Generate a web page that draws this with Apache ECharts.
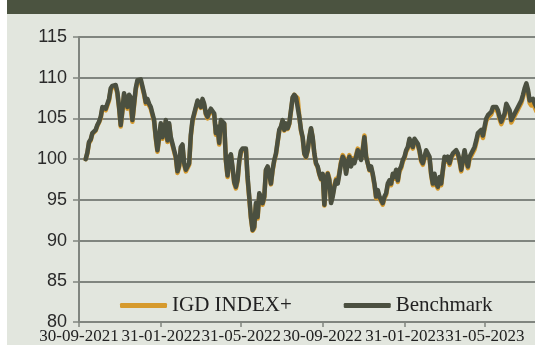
<!DOCTYPE html>
<html>
<head>
<meta charset="utf-8">
<script src="https://cdn.jsdelivr.net/npm/echarts@6/dist/echarts.min.js"></script>
<style>
html,body{margin:0;padding:0;background:#ffffff;}
#c{width:535px;height:345px;}
</style>
</head>
<body>
<div id="c"></div>
<script>
// ---- data ----
const seriesNames = ['IGD INDEX+', 'Benchmark'];
const startDate = '10-10-2021';    // first observation
const stepDays = 2.5;              // spacing between observations
const tickDates = ['30-09-2021', '31-01-2022', '31-05-2022', '30-09-2022', '31-01-2023', '31-05-2023'];
const axisStart = '30-09-2021';
const axisEnd = '14-08-2023';
const yTicks = [80, 85, 90, 95, 100, 105, 110, 115];

const benchmark = [
100.0,100.8,102.1,102.4,103.2,103.4,103.6,104.2,104.6,105.2,
106.4,106.6,106.2,106.4,107.4,108.7,109.0,109.1,109.1,108.2,
106.4,104.2,106.0,108.1,107.9,106.4,107.9,107.6,104.8,106.8,
108.7,109.7,109.8,109.8,109.7,108.1,107.0,107.4,106.8,106.4,
105.6,104.8,102.7,101.1,100.9,104.4,102.7,103.2,104.8,102.3,
104.4,102.7,101.9,101.1,100.3,98.5,99.2,101.5,101.8,99.5,
98.7,98.7,99.5,103.0,104.8,105.6,106.4,107.2,107.4,106.4,
107.4,106.8,105.6,105.2,105.8,106.2,106.4,105.6,103.2,104.0,
102.0,104.8,104.6,104.4,99.9,98.0,100.2,100.6,99.0,97.2,
96.6,97.5,99.8,101.0,101.3,101.5,101.3,97.8,95.4,92.9,
91.3,91.7,94.6,
92.9,95.8,95.4,94.6,95.4,98.7,99.1,98.2,97.0,98.7,
99.9,100.7,100.7,103.6,104.0,104.8,103.6,104.4,103.8,104.4,
106.0,107.6,107.9,107.6,107.4,105.2,103.6,102.7,100.7,100.3,
101.1,102.7,103.8,102.7,100.7,99.5,99.1,98.2,97.6,98.2,
94.4,97.4,98.2,97.4,94.6,95.4,96.6,97.4,97.0,98.2,
99.5,100.3,99.9,98.2,99.5,100.3,99.1,99.9,99.5,100.3,
101.1,100.7,99.9,101.1,102.7,100.3,99.5,98.7,99.1,98.2,
97.0,95.4,96.2,95.4,95.0,94.6,95.4,95.8,97.0,97.4,
97.0,98.2,97.8,98.7,97.4,98.7,99.1,99.9,100.3,101.1,
101.5,102.5,101.9,101.5,102.5,102.7,101.9,101.1,99.9,99.5,
100.3,101.1,101.3,100.3,98.2,97.0,98.2,
97.0,96.6,97.8,97.0,98.7,100.3,99.9,100.3,99.5,100.3,
100.7,100.9,101.1,100.7,99.9,98.7,99.9,101.1,99.9,99.1,
100.3,100.7,101.1,101.5,102.3,103.2,103.4,103.6,102.9,104.0,
105.0,105.4,105.6,105.8,106.4,106.6,106.4,106.0,105.2,104.6,
104.4,105.6,106.8,106.8,106.0,104.8,105.0,105.6,105.8,106.4,
106.8,107.2,107.9,108.7,109.3,108.5,107.2,107.0,107.4,106.8,
106.4
];

const igd = [
100.0,100.7,102.0,102.3,103.1,103.3,103.5,104.1,104.5,105.0,
106.2,106.4,106.0,106.2,107.2,108.5,108.8,108.9,108.9,108.0,
106.3,104.0,105.8,107.9,107.8,106.2,107.7,107.5,104.6,106.6,
108.5,109.5,109.6,109.6,109.5,107.9,106.8,107.2,106.6,106.2,
105.4,104.6,102.5,100.9,100.8,104.2,102.5,103.0,104.6,102.1,
104.2,102.5,101.7,100.9,100.1,98.3,99.0,101.3,101.6,99.3,
98.5,98.5,99.3,102.8,104.6,105.4,106.2,107.0,107.2,106.3,
107.2,106.6,105.5,105.0,105.6,106.0,106.2,105.4,103.0,103.8,
101.8,104.6,104.5,104.3,99.8,97.8,100.0,100.5,98.8,97.0,
96.4,97.3,99.6,100.8,101.2,101.4,101.2,97.6,95.2,92.7,
91.2,91.5,94.4,
92.7,95.6,95.2,94.4,95.3,98.6,99.0,98.1,96.9,98.6,
99.8,100.6,100.6,103.5,103.9,104.7,103.5,104.3,103.7,104.3,
105.9,107.5,107.9,107.7,107.5,105.2,103.5,102.6,100.6,100.2,
101.0,102.6,103.7,102.6,100.6,99.4,99.0,98.1,97.5,98.1,
94.3,97.3,98.3,97.6,94.8,95.6,96.8,97.6,97.2,98.4,
99.7,100.5,100.1,98.4,99.7,100.5,99.3,100.1,99.7,100.5,
101.3,100.9,100.1,101.3,102.9,100.4,99.5,98.6,98.9,98.0,
96.8,95.2,96.0,95.2,94.8,94.4,95.2,95.6,96.8,97.2,
96.8,98.0,97.6,98.5,97.2,98.5,98.9,99.7,100.1,100.9,
101.3,102.3,101.7,101.3,102.3,102.5,101.7,100.9,99.7,99.3,
100.1,100.9,101.1,100.1,98.0,96.8,98.0,
96.8,96.4,97.6,96.8,98.5,100.1,99.7,100.1,99.3,100.1,
100.5,100.7,100.9,100.5,99.7,98.5,99.7,100.9,99.7,98.9,
100.0,100.4,100.8,101.2,102.0,102.9,103.1,103.3,102.6,103.7,
104.7,105.1,105.3,105.5,106.1,106.3,106.1,105.7,104.9,104.3,
104.1,105.3,106.5,106.5,105.7,104.5,104.7,105.3,105.5,106.1,
106.5,106.9,107.6,108.4,109.0,108.2,106.9,106.6,107.0,106.4,
105.9
];

// ---- helpers: x axis is measured in days since axisStart ----
const DAY = 86400000;
function parseDMY(s){ const p = s.split('-'); return Date.UTC(+p[2], +p[1]-1, +p[0]); }
function pad(n){ return (n < 10 ? '0' : '') + n; }
const base = parseDMY(axisStart);
function toDay(s){ return Math.round((parseDMY(s) - base) / DAY); }
function fmt(v){ const d = new Date(base + Math.round(v) * DAY); return pad(d.getUTCDate()) + '-' + pad(d.getUTCMonth()+1) + '-' + d.getUTCFullYear(); }
const firstDay = toDay(startDate);
function pairs(arr){ return arr.map((v,i) => [firstDay + i*stepDays, v]); }
const tickDays = tickDates.map(toDay);

const gridColor = '#80857f';
const chart = echarts.init(document.getElementById('c'), null, {renderer:'canvas'});
chart.setOption({
  animation: false,
  backgroundColor: '#ffffff',
  graphic: [
    {type:'rect', left:7, top:0, shape:{width:528, height:345}, style:{fill:'#e2e6de'}, z:-10, silent:true},
    {type:'rect', left:7, top:0, shape:{width:528, height:14}, style:{fill:'#4b5340'}, z:-9, silent:true}
  ],
  grid: {left:79, right:0, top:37, bottom:23, containLabel:false},
  xAxis: {
    type:'value',
    min: 0,
    max: toDay(axisEnd),
    splitLine:{show:false},
    axisLine:{show:true, lineStyle:{color:gridColor, width:2}},
    axisTick:{show:true, customValues: tickDays, length:5, lineStyle:{color:gridColor, width:1.5}},
    axisLabel:{
      customValues: tickDays,
      formatter: fmt,
      fontFamily:'Liberation Serif', fontSize:17, color:'#222', margin:6,
      hideOverlap:false
    }
  },
  yAxis: {
    type:'value', min:yTicks[0], max:yTicks[yTicks.length-1], interval:5,
    axisLine:{show:true, lineStyle:{color:gridColor, width:2}},
    axisTick:{show:true, length:6, lineStyle:{color:gridColor, width:1.5}},
    splitLine:{show:true, lineStyle:{color:gridColor, width:2}},
    axisLabel:{fontFamily:'Liberation Sans', fontSize:18, color:'#2a2a2a', margin:12}
  },
  legend: {
    left:115, top:290, itemWidth:47, itemHeight:5, itemGap:52,
    icon:'roundRect',
    textStyle:{fontFamily:'Liberation Serif', fontSize:21, color:'#222'},
    data: seriesNames
  },
  series: [
    {name:seriesNames[0], type:'line', data:pairs(igd), showSymbol:false, symbol:'none',
     lineStyle:{color:'#d69a2d', width:4.5, cap:'round', join:'round'}, itemStyle:{color:'#d69a2d'}, z:2},
    {name:seriesNames[1], type:'line', data:pairs(benchmark), showSymbol:false, symbol:'none',
     lineStyle:{color:'#4b5040', width:4.5, cap:'round', join:'round'}, itemStyle:{color:'#4b5040'}, z:3}
  ]
});
</script>
</body>
</html>
